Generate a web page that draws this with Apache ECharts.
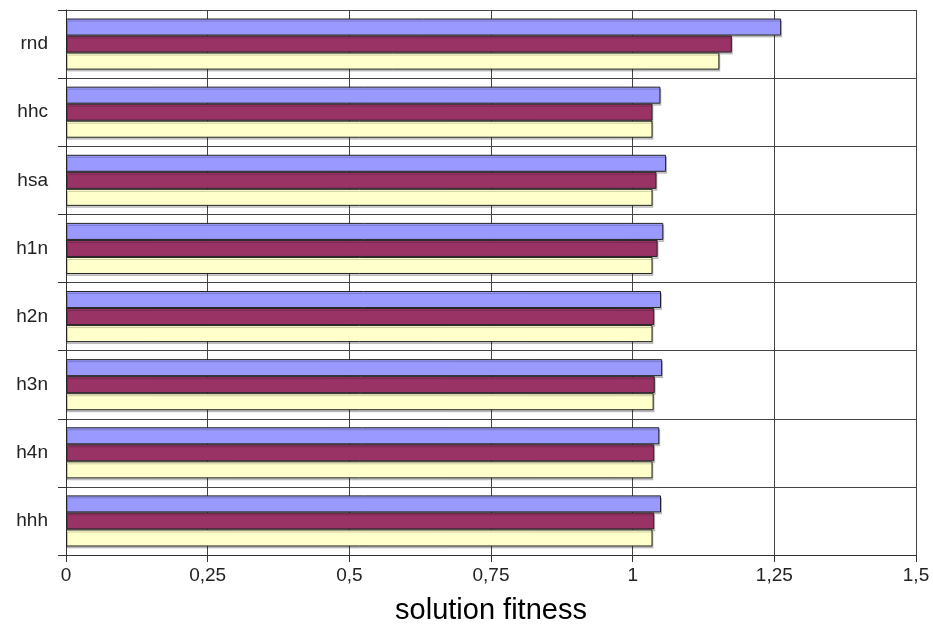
<!DOCTYPE html>
<html>
<head>
<meta charset="utf-8">
<script src="https://cdn.jsdelivr.net/npm/echarts@6/dist/echarts.min.js"></script>
<style>html,body{margin:0;padding:0;background:#fff}#c{width:933px;height:630px}</style>
</head>
<body>
<div id="c"></div>
<script>
var categories = ['rnd', 'hhc', 'hsa', 'h1n', 'h2n', 'h3n', 'h4n', 'hhh'];
var seriesA = [1.262, 1.049, 1.059, 1.054, 1.050, 1.052, 1.047, 1.050];
var seriesB = [1.175, 1.035, 1.042, 1.044, 1.038, 1.039, 1.038, 1.038];
var seriesC = [1.153, 1.035, 1.035, 1.035, 1.035, 1.037, 1.035, 1.035];
var xTicks = { min: 0, max: 1.5, interval: 0.25 };
var axisName = 'solution fitness';

var chart = echarts.init(document.getElementById('c'), null, { renderer: 'canvas' });
function barSeries(name, data, color) {
  return {
    name: name, type: 'bar', data: data,
    barGap: '0%', barCategoryGap: '25%',
    itemStyle: {
      color: color, borderColor: '#222', borderWidth: 1,
      shadowColor: 'rgba(0,0,0,0.2)', shadowOffsetX: 1, shadowOffsetY: 2, shadowBlur: 0
    },
    animation: false
  };
}
chart.setOption({
  animation: false,
  grid: { left: 66, right: 17, top: 10, bottom: 73, containLabel: false },
  xAxis: {
    type: 'value', min: xTicks.min, max: xTicks.max, interval: xTicks.interval,
    name: axisName, nameLocation: 'middle', nameGap: 41,
    nameTextStyle: { fontFamily: 'Liberation Sans', fontSize: 29, color: '#000' },
    axisLine: { show: true, lineStyle: { color: '#333', width: 1 } },
    axisTick: { show: true, length: 7, lineStyle: { color: '#333' } },
    axisLabel: {
      fontFamily: 'Liberation Sans', fontSize: 19, color: '#222', margin: 11,
      formatter: function (v) { return String(v).replace('.', ','); }
    },
    splitLine: { show: true, lineStyle: { color: '#444', width: 1 } }
  },
  yAxis: {
    type: 'category', data: categories, inverse: true,
    axisLine: { show: true, lineStyle: { color: '#333', width: 1 } },
    axisTick: { show: true, length: 8, lineStyle: { color: '#333' } },
    axisLabel: { fontFamily: 'Liberation Sans', fontSize: 19, color: '#222', margin: 18 },
    splitLine: { show: true, lineStyle: { color: '#444', width: 1 } }
  },
  series: [
    barSeries('A', seriesA, '#9999FF'),
    barSeries('B', seriesB, '#993366'),
    barSeries('C', seriesC, '#FFFFCC')
  ]
});
</script>
</body>
</html>
